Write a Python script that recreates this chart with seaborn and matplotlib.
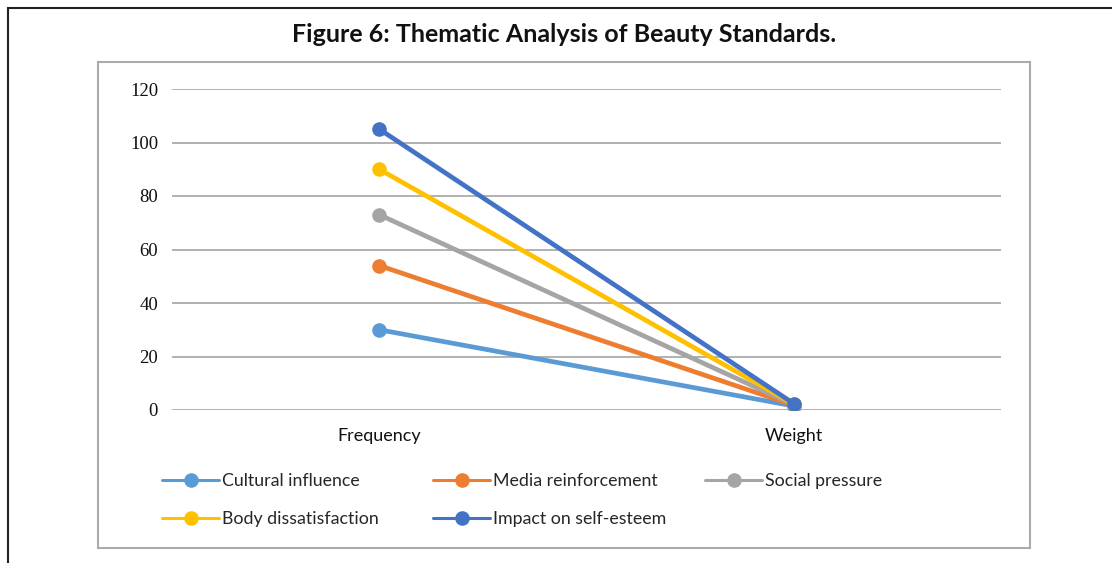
import matplotlib
matplotlib.use("Agg")
import matplotlib.pyplot as plt
import seaborn as sns
import pandas as pd
from matplotlib.lines import Line2D
from matplotlib.patches import Rectangle

categories = ["Frequency", "Weight"]
series = ["Cultural influence", "Media reinforcement", "Social pressure",
          "Body dissatisfaction", "Impact on self-esteem"]
frequency = [30, 54, 73, 90, 105]
weight = [1.5, 1.8, 2.0, 2.2, 2.4]
colors = ["#5B9BD5", "#ED7D31", "#A5A5A5", "#FFC000", "#4472C4"]
yticks = [0, 20, 40, 60, 80, 100, 120]

rows = []
for s, f, w in zip(series, frequency, weight):
    rows.append({"category": categories[0], "series": s, "value": f})
    rows.append({"category": categories[1], "series": s, "value": w})
df = pd.DataFrame(rows)

sns.set_theme(style="white")
plt.rcParams['font.family'] = ['Lato', 'DejaVu Sans']

W, H = 1112, 563
fig = plt.figure(figsize=(W / 100, H / 100), dpi=100)

def fx(px):
    return px / W

def fy(py):
    return 1 - py / H

# outer border
fig.patches.append(Rectangle((fx(8), fy(600)), fx(1200), fy(8) - fy(600),
                             transform=fig.transFigure, fill=False,
                             edgecolor="#222222", linewidth=1.5))
# chart frame
fig.patches.append(Rectangle((fx(98), fy(548)), fx(1030) - fx(98), fy(62) - fy(548),
                             transform=fig.transFigure, fill=False,
                             edgecolor="#ABABAB", linewidth=1.5))

fig.text(fx(564), fy(35), "Figure 6: Thematic Analysis of Beauty Standards.",
         ha="center", va="center", fontsize=18, fontweight="bold", color="#111111")

ax = fig.add_axes([fx(172), fy(410), fx(1001) - fx(172), fy(89) - fy(410)])

sns.lineplot(data=df, x="category", y="value", hue="series", hue_order=series,
             palette=colors, marker="o", markersize=10.5, markeredgewidth=0,
             linewidth=3.4, sort=False, ax=ax, legend=False)

ax.set_xlim(-0.5, 1.5)
ax.set_ylim(0, 120)
ax.set_yticks(yticks)
ax.set_yticklabels([str(t) for t in yticks], family="Liberation Serif", fontsize=13.5)
ax.set_xticks([0, 1])
ax.set_xticklabels(categories, fontsize=13)
ax.set_xlabel("")
ax.set_ylabel("")
ax.grid(axis="y", color="#ABABAB", linewidth=1.3)
ax.set_axisbelow(True)
for sp in ax.spines.values():
    sp.set_visible(False)
ax.tick_params(axis="both", length=0, colors="#111111")
ax.tick_params(axis="x", pad=13)
ax.tick_params(axis="y", pad=10)

def handle(c):
    return Line2D([0], [0], color=c, marker="o", markersize=10.5, linewidth=2.2,
                  markeredgewidth=0)

cols = [([0, 3], 162), ([1, 4], 433), ([2], 705)]
for idx, px in cols:
    leg = fig.legend([handle(colors[i]) for i in idx], [series[i] for i in idx],
                     loc="upper left", bbox_to_anchor=(fx(px - 7), fy(466)),
                     frameon=False, fontsize=12.8, handlelength=3.2,
                     handletextpad=0.15, labelspacing=1.25, borderaxespad=0)

fig.savefig("out.png", dpi=100)
